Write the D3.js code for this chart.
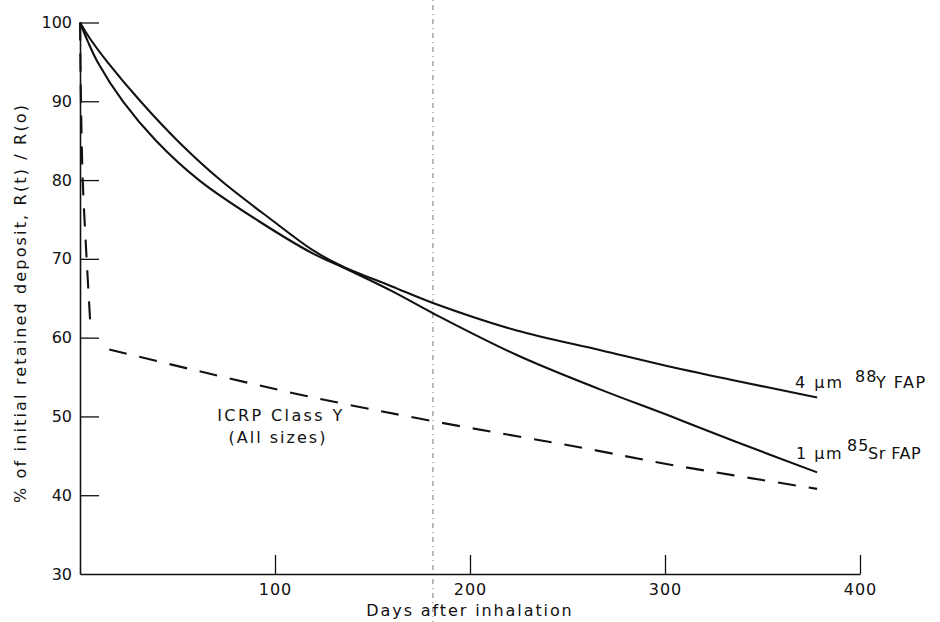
<!DOCTYPE html>
<html><head><meta charset="utf-8">
<script src="https://cdn.jsdelivr.net/npm/d3@7"></script>
<style>
body{margin:0;background:#fff}
svg{display:block}
text{font-family:"DejaVu Sans",sans-serif;fill:#111}
</style>
</head><body>
<svg id="chart" width="940" height="622"></svg>
<script>
// ---- data ----
const yTickValues = [30, 40, 50, 60, 70, 80, 90, 100];
const xTickValues = [100, 200, 300, 400];

const y88Days = [0, 5, 14, 31, 50, 72, 98, 120, 135, 160, 181, 224, 267, 301, 335, 378];
const y88Vals = [100, 98, 95, 90, 85, 80, 75, 71.0, 69.0, 66.5, 64.4, 60.9, 58.4, 56.4, 54.6, 52.4];

const sr85Days = [0, 4, 9, 22, 39, 61, 91, 120, 135, 160, 181, 224, 267, 301, 335, 378];
const sr85Vals = [100, 97.6, 95, 90, 85, 80, 74.9, 70.6, 68.9, 65.9, 63.1, 57.8, 53.4, 50.2, 46.9, 42.9];

const icrpDays = [0, 0.5, 1.4, 3.4, 5.4, 10, 15, 60, 116, 181, 258, 300, 378];
const icrpVals = [100, 90, 80, 70, 61.3, null, 58.5, 55.8, 52.6, 49.4, 46.0, 44.0, 40.8];

const foldDay = 181; // faint dotted vertical line in the scan

const xLabel = "Days after inhalation";
const yLabel = "% of initial retained deposit, R(t) / R(o)";

// ---- drawing ----
const svg = d3.select("#chart");
const x = d3.scaleLinear().domain([0, 400]).range([80, 860]);
const y = d3.scaleLinear().domain([30, 100]).range([574, 22.5]);

// faint dotted vertical line
svg.append("line")
  .attr("x1", x(foldDay)).attr("x2", x(foldDay))
  .attr("y1", 0).attr("y2", 622)
  .attr("stroke", "#666").attr("stroke-width", 0.9)
  .attr("stroke-dasharray", "1,4,5,4");

// axes
const yAxis = d3.axisLeft(y).tickValues(yTickValues).tickSize(-19).tickSizeOuter(0).tickPadding(8);
const gy = svg.append("g").attr("transform", `translate(${x(0)},0)`).call(yAxis);
const xAxis = d3.axisBottom(x).tickValues(xTickValues).tickSize(-19).tickSizeOuter(0).tickPadding(10);
const gx = svg.append("g").attr("transform", `translate(0,${y(30)})`).call(xAxis);
[gx, gy].forEach(g => {
  g.select(".domain").attr("stroke", "#111").attr("stroke-width", 1.6);
  g.selectAll(".tick line").attr("stroke", "#111").attr("stroke-width", 1.3);
  g.selectAll(".tick text").attr("font-size", 16).attr("font-family", "DejaVu Sans").attr("fill", "#111");
});
gx.selectAll(".tick text").attr("letter-spacing", 1);
gy.selectAll(".tick").filter(d => d === 30).select("line").remove();

// lines
const mk = (days, vals) => days.map((d, i) => ({d, v: vals[i]}));
const line = d3.line().defined(p => p.v != null).x(p => x(p.d)).y(p => y(p.v))
  .curve(d3.curveCatmullRom.alpha(0.5));

svg.append("path").datum(mk(y88Days, y88Vals)).attr("d", line)
  .attr("fill", "none").attr("stroke", "#111").attr("stroke-width", 2.1);
svg.append("path").datum(mk(sr85Days, sr85Vals)).attr("d", line)
  .attr("fill", "none").attr("stroke", "#111").attr("stroke-width", 2.1);
svg.append("path").datum(mk(icrpDays, icrpVals)).attr("d", line)
  .attr("fill", "none").attr("stroke", "#111").attr("stroke-width", 2.1)
  .attr("stroke-dasharray", "18,13");

// axis titles
svg.append("text").attr("x", x(200)).attr("y", 616).attr("text-anchor", "middle")
  .attr("font-size", 16).attr("letter-spacing", 1.9).text(xLabel);
svg.append("text").attr("transform", "translate(26,304) rotate(-90)").attr("text-anchor", "middle")
  .attr("font-size", 16).attr("textLength", 398).attr("lengthAdjust", "spacing").text(yLabel);

// annotations
svg.append("text").attr("x", 281).attr("y", 421).attr("text-anchor", "middle")
  .attr("font-size", 16).attr("letter-spacing", 2.4).text("ICRP Class Y");
svg.append("text").attr("x", 278).attr("y", 443).attr("text-anchor", "middle")
  .attr("font-size", 16).attr("letter-spacing", 2).text("(All sizes)");

const t1 = svg.append("text").attr("font-size", 16);
t1.append("tspan").attr("x", 795).attr("y", 388).attr("letter-spacing", 2).text("4 µm");
t1.append("tspan").attr("x", 855).attr("y", 382).attr("letter-spacing", 1).text("88");
t1.append("tspan").attr("x", 876).attr("y", 388).attr("letter-spacing", 1.5).text("Y FAP");

const t2 = svg.append("text").attr("font-size", 16);
t2.append("tspan").attr("x", 796).attr("y", 459).attr("letter-spacing", 1.5).text("1 µm");
t2.append("tspan").attr("x", 847).attr("y", 451).attr("letter-spacing", 1).text("85");
t2.append("tspan").attr("x", 868).attr("y", 459).attr("letter-spacing", 0.5).text("Sr FAP");
</script>
</body></html>
